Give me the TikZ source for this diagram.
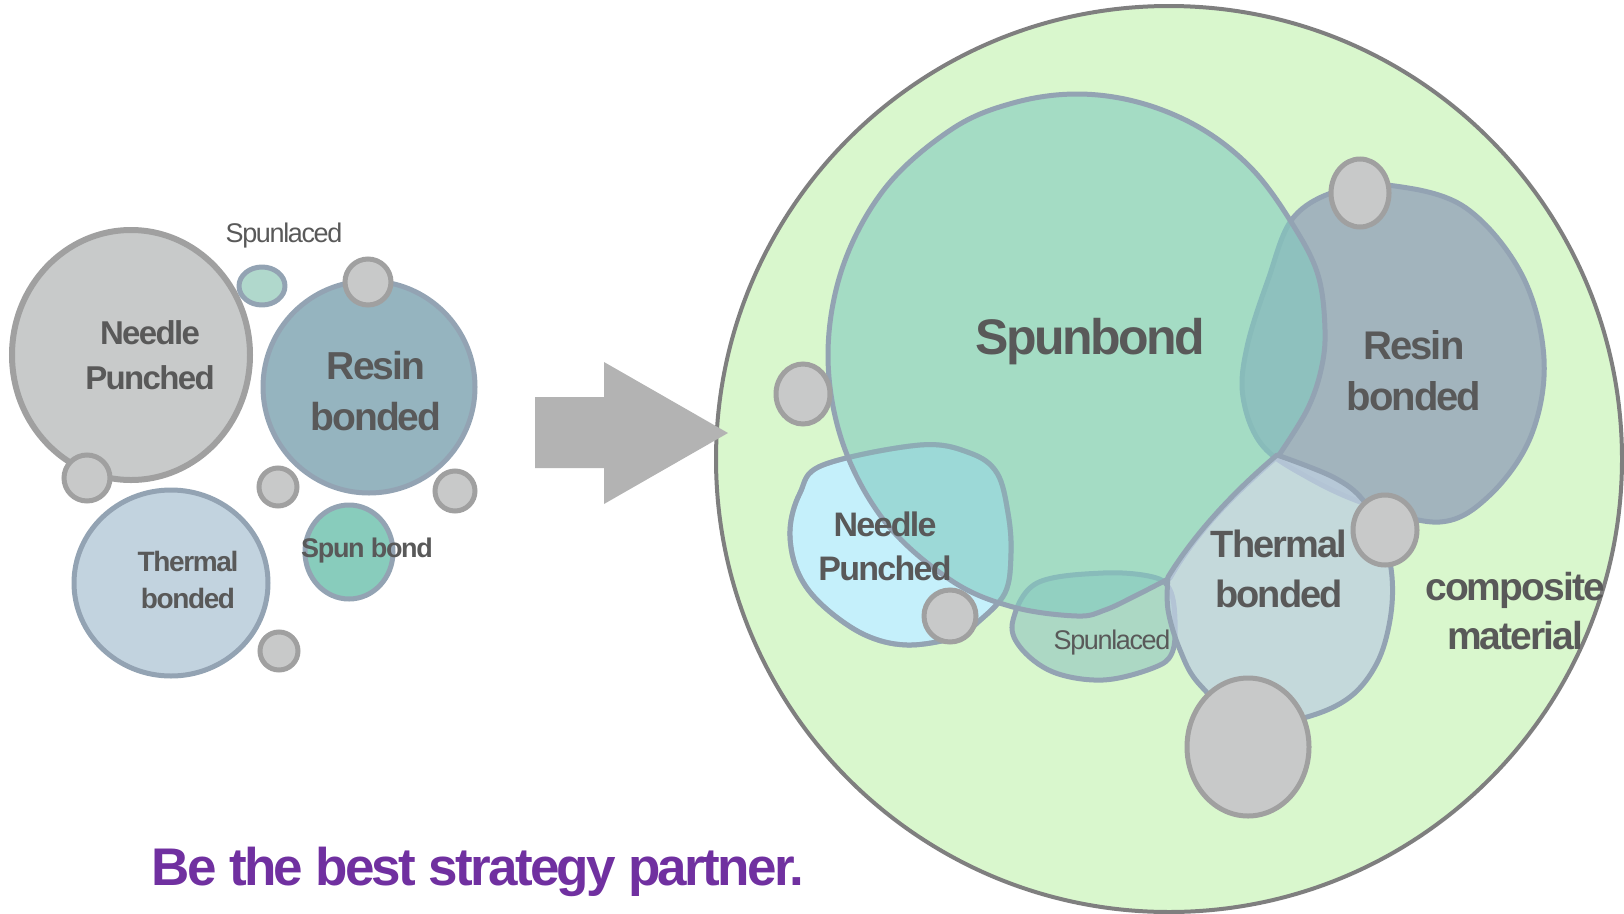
\documentclass[tikz,border=0pt]{standalone}
\usepackage{fontspec}
\setmainfont{Liberation Sans}
\newfontfamily\lblfont[LetterSpace=-5]{Liberation Sans}
\usepackage{tikz}
\usetikzlibrary{calc}

\definecolor{textgray}{HTML}{595959}
\definecolor{slogan}{HTML}{7030A0}
\definecolor{edgeblue}{HTML}{93A3B3}
\definecolor{dotfill}{HTML}{C8C9C9}
\definecolor{dotline}{HTML}{A0A0A0}
\definecolor{arrowgray}{HTML}{B3B3B3}
\definecolor{bigfill}{HTML}{D9F7CD}
\definecolor{bigline}{HTML}{7F7F7F}
\definecolor{needlefill}{HTML}{C8CACA}
\definecolor{resinfill}{HTML}{95B4BF}
\definecolor{thermfill}{HTML}{C2D3DF}
\definecolor{sbfill}{HTML}{88CCBC}
\definecolor{slfill}{HTML}{B0D8CC}
\definecolor{resinR}{HTML}{A2B4BD}
\definecolor{thermR}{HTML}{BED0E1}
\definecolor{needleR}{HTML}{C5F0FB}
\definecolor{spunlaceR}{HTML}{ACD8C4}
\definecolor{spunbondR}{HTML}{81CBBF}

\begin{document}
\begin{tikzpicture}[x=1pt,y=-1pt,
    bubble/.style={line width=5pt, draw=edgeblue, line join=round},
    dot/.style={fill=dotfill, draw=dotline, line width=5pt},
    lbl/.style={text=textgray, align=center},
  ]
        \useasboundingbox (0,0) rectangle (1624,913);

        % Left side: the separate technologies
        \draw[line width=6pt, draw=dotline, fill=needlefill] (131,355) ellipse [x radius=119, y radius=125];
        \draw[bubble, fill=resinfill] (369,387) circle (106);
        \draw[bubble, fill=thermfill] (171,583) ellipse [x radius=97, y radius=93];
        \draw[bubble, fill=sbfill] (349,552) ellipse [x radius=44, y radius=47];
        \draw[bubble, fill=slfill] (262,286) ellipse [x radius=23, y radius=19];
        \draw[dot] (87,478) circle (23);
        \draw[dot] (368,282) circle (23);
        \draw[dot] (278,487) circle (19);
        \draw[dot] (455,491) circle (20);
        \draw[dot] (279,651) circle (19);

        % Labels on the left
        \node[lbl, font={\lblfont\bfseries\fontsize{33}{45}\selectfont}] (needleL) at (150,355) {Needle\\Punched};
        \node[lbl, font={\lblfont\bfseries\fontsize{39}{51}\selectfont}] (resinL) at (376,391) {Resin\\bonded};
        \node[lbl, font={\lblfont\bfseries\fontsize{28}{37}\selectfont}] (thermL) at (188,580) {Thermal\\bonded};
        \node[lbl, font={\lblfont\bfseries\fontsize{27}{32}\selectfont}] (spunbondL) at (367,551) {Spun bond};
        \node[lbl, font={\lblfont\fontsize{27}{32}\selectfont}] (spunlaceL) at (284,236) {Spunlaced};

        % Right side: the composite
        \draw[line width=4pt, draw=bigline, fill=bigfill] (1169,459) circle (453);

        \draw[bubble, fill=resinR] plot[smooth cycle, tension=0.6] coordinates {
            (1395,186) (1466,208) (1522,275) (1544,359) (1531,436) (1490,495)
            (1440,522) (1366,504) (1307,477) (1262,445) (1243,397) (1247,347)
            (1268,280) (1293,218) (1340,190)};
        \draw[bubble, fill=needleR] plot[smooth cycle, tension=0.6] coordinates {
            (823,465) (920,445) (970,453) (997,473) (1008,513) (1011,553)
            (1005,593) (977,623) (957,637) (907,645) (863,634) (820,603)
            (797,570) (790,530) (800,493)};
        \draw[bubble, fill=spunlaceR] plot[smooth cycle, tension=0.6] coordinates {
            (1013,620) (1037,583) (1103,573) (1153,577) (1170,590) (1175,620)
            (1172,653) (1153,668) (1103,680) (1053,672) (1020,647)};
        \draw[bubble, fill=spunbondR, fill opacity=0.6] plot[smooth, tension=0.6] coordinates {
            (1279,455) (1307,410) (1321,370) (1325,330) (1318,275) (1293,225)
            (1253,170) (1202,129) (1141,103) (1077,94) (1013,103) (952,129)
            (886,187) (843,266) (828,355) (843,444) (886,523) (952,581)
            (1013,607) (1077,616) (1105,610) (1135,596) (1170,578)}
            .. controls (1200,525) and (1245,485) .. (1279,455) -- cycle;
        % needle outline shows through
        \draw[bubble, draw opacity=0.6] plot[smooth cycle, tension=0.6] coordinates {
            (823,465) (920,445) (970,453) (997,473) (1008,513) (1011,553)
            (1005,593) (977,623) (957,637) (907,645) (863,634) (820,603)
            (797,570) (790,530) (800,493)};
        \draw[bubble, fill=thermR, fill opacity=0.75] plot[smooth, tension=0.6] coordinates {
            (1277,455) (1333,477) (1363,500) (1383,537) (1392,577) (1390,620)
            (1377,663) (1350,697) (1307,717) (1250,726) (1200,685) (1180,650)
            (1168,610) (1168,577)}
            .. controls (1200,525) and (1245,482) .. (1277,455) -- cycle;

        \draw[dot] (803,394) ellipse [x radius=27, y radius=30];
        \draw[dot] (1360,193) ellipse [x radius=29, y radius=34];
        \draw[dot] (1385,530) ellipse [x radius=32, y radius=35];
        \draw[dot] (950,616) circle (26);
        \draw[dot] (1248,747) ellipse [x radius=61, y radius=69];

        % Labels on the right
        \node[lbl, font={\lblfont\bfseries\fontsize{50}{60}\selectfont}] (spunbondR) at (1090,342) {Spunbond};
        \node[lbl, font={\lblfont\bfseries\fontsize{40}{51}\selectfont}] (resinR) at (1414,371) {Resin\\bonded};
        \node[lbl, font={\lblfont\bfseries\fontsize{34}{44}\selectfont}] (needleR) at (885,546) {Needle\\Punched};
        \node[lbl, font={\lblfont\bfseries\fontsize{38}{50}\selectfont}] (thermR) at (1279,569) {Thermal\\bonded};
        \node[lbl, font={\lblfont\fontsize{27}{32}\selectfont}] (spunlaceR) at (1112,643) {Spunlaced};
        \node[lbl, font={\lblfont\bfseries\fontsize{39}{49}\selectfont}] (compositeR) at (1515,611) {composite\\material};

        % The arrow, on top of the big circle
        \fill[arrowgray] (535,397) -- (604,397) -- (604,362) -- (728,433)
            -- (604,504) -- (604,468) -- (535,468) -- cycle;

        % Slogan
        \node[text=slogan, font={\lblfont\bfseries\fontsize{53}{60}\selectfont}] (slogan) at (478,872) {Be the best strategy partner.};
    \end{tikzpicture}
\end{document}
